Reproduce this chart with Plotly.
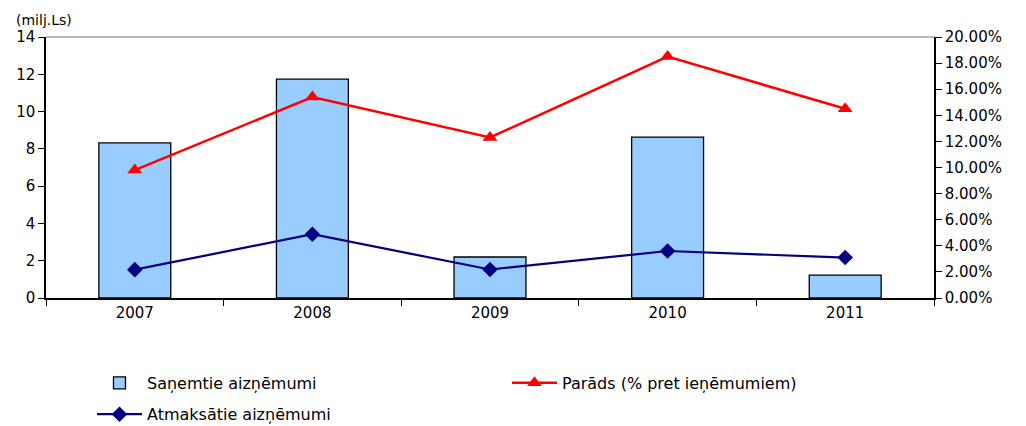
import plotly.graph_objects as go

years = ["2007", "2008", "2009", "2010", "2011"]
sanemtie = [8.32, 11.74, 2.2, 8.63, 1.23]
atmaksatie = [1.52, 3.42, 1.53, 2.52, 2.17]
parads = [0.098, 0.154, 0.123, 0.185, 0.145]

FONT = "DejaVu Sans, Verdana, sans-serif"

fig = go.Figure()
fig.add_trace(go.Bar(
    x=years, y=sanemtie, name="Saņemtie aizņēmumi",
    marker=dict(color="#99CCFF", line=dict(color="#000000", width=1.3)),
    width=0.405, legend="legend",
))
fig.add_trace(go.Scatter(
    x=years, y=parads, name="Parāds (% pret ieņēmumiem)", yaxis="y2",
    mode="lines+markers",
    line=dict(color="#FF0000", width=2.5),
    marker=dict(symbol="triangle-up", size=13, color="#FF0000"),
    legend="legend",
))
fig.add_trace(go.Scatter(
    x=years, y=atmaksatie, name="Atmaksātie aizņēmumi",
    mode="lines+markers",
    line=dict(color="#000080", width=2.2),
    marker=dict(symbol="diamond", size=12, color="#000080"),
    legend="legend2",
))

fig.update_layout(
    width=1018, height=418,
    margin=dict(l=38, r=92, t=29, b=128, autoexpand=False),
    paper_bgcolor="white", plot_bgcolor="white",
    font=dict(family=FONT, size=15, color="#000000"),
    xaxis=dict(
        type="category", showline=True, linecolor="#000000", linewidth=1.5,
        ticks="outside", tickson="boundaries", ticklen=6, tickcolor="#000000",
        showgrid=False, tickfont=dict(size=15), automargin=False,
    ),
    yaxis=dict(
        range=[0, 14], dtick=2, showline=True, linecolor="#000000", linewidth=1.5,
        ticks="outside", ticklen=6, tickcolor="#000000", showgrid=False,
        zeroline=False, tickfont=dict(size=15), automargin=False,
    ),
    yaxis2=dict(
        range=[0, 0.2], dtick=0.02, tickformat=".2%", overlaying="y", side="right",
        showline=True, linecolor="#000000", linewidth=1.5,
        ticks="outside", ticklen=6, tickcolor="#000000", showgrid=False,
        zeroline=False, tickfont=dict(size=15), automargin=False,
    ),
    legend=dict(
        orientation="h", xref="container", yref="container",
        x=0.0825, y=0.103, xanchor="left", yanchor="middle",
        entrywidth=355, entrywidthmode="pixels", itemwidth=45,
        font=dict(size=16), bgcolor="rgba(0,0,0,0)",
    ),
    legend2=dict(
        orientation="h", xref="container", yref="container",
        x=0.0825, y=0.028, xanchor="left", yanchor="middle",
        itemwidth=45, font=dict(size=16), bgcolor="rgba(0,0,0,0)",
    ),
    shapes=[dict(type="line", xref="paper", yref="paper", x0=0, x1=1, y0=1, y1=1,
                 line=dict(color="#A0A0A0", width=1.5))],
    annotations=[dict(text="(milj.Ls)", xref="paper", yref="paper", x=-0.036, y=1.066,
                      xanchor="left", yanchor="middle", showarrow=False,
                      font=dict(size=14))],
)

fig.write_html("out.html")
